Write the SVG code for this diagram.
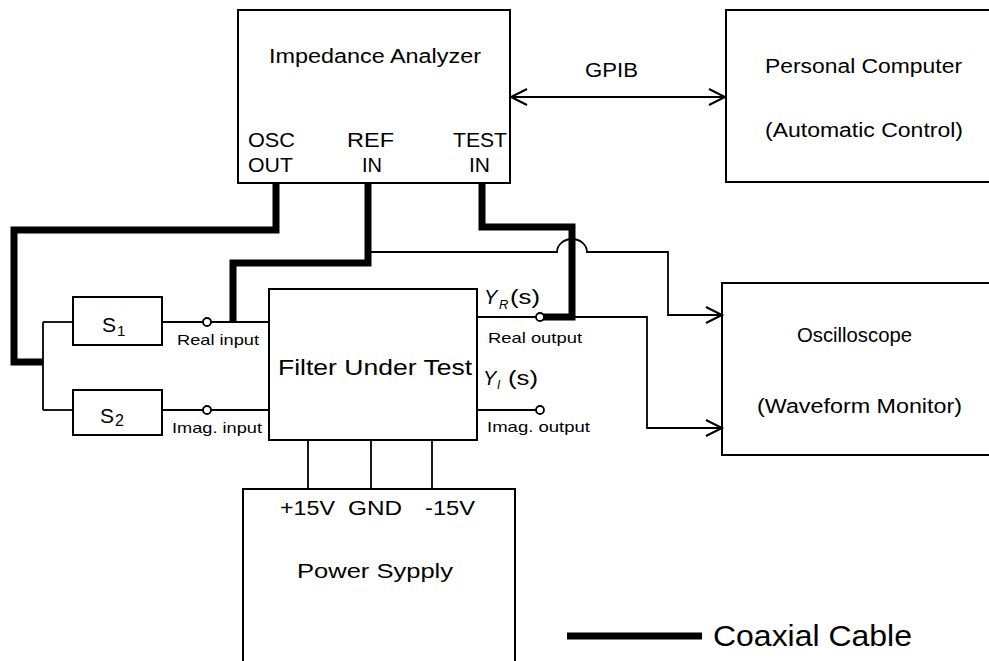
<svg xmlns="http://www.w3.org/2000/svg" width="989" height="661" viewBox="0 0 989 661">
<style>
  .box { fill: none; stroke: #000; stroke-width: 2; }
  .thin { fill: none; stroke: #000; stroke-width: 1.8; }
  .coax { fill: none; stroke: #000; stroke-width: 7; stroke-linejoin: miter; stroke-linecap: butt; }
  .port { fill: #fff; stroke: #000; stroke-width: 1.8; }
  text { font-family: "Liberation Sans", Arial, sans-serif; fill: #000; }
  .lbl { font-size: 20px; }
  .sm { font-size: 15px; }
</style>
<defs>
  <marker id="arr" markerUnits="userSpaceOnUse" markerWidth="22" markerHeight="22" refX="17" refY="9" orient="auto-start-reverse">
    <path d="M1,1 L17,9 L1,17" fill="none" stroke="#000" stroke-width="2"/>
  </marker>
</defs>
<rect width="989" height="661" fill="#fff"/>

<g id="connectors">
  <!-- coaxial cables -->
  <path class="coax" d="M276,183 V230 H14 V362 H43"/>
  <path class="coax" d="M368,183 V263 H233 V322"/>
  <path class="coax" d="M482,183 V227 H572 V317 H543"/>
  <!-- thin wires -->
  <path class="thin" d="M43,322 V410"/>
  <path class="thin" d="M43,322 H73"/>
  <path class="thin" d="M43,410 H73"/>
  <path class="thin" d="M162,322 H203 M211,322 H269"/>
  <path class="thin" d="M162,410 H203 M211,410 H269"/>
  <path class="thin" d="M477,317 H536"/>
  <path class="thin" d="M477,410 H536"/>
  <path class="thin" d="M368,252 H557 A15,13 0 0 1 587,252 H668 V315 H722" marker-end="url(#arr)"/>
  <path class="thin" d="M572,317 H647 V428 H722" marker-end="url(#arr)"/>
  <path class="thin" d="M511,97 H725" marker-start="url(#arr)" marker-end="url(#arr)"/>
  <path class="thin" d="M308,440 V489 M371,440 V489 M432,440 V489"/>
  <circle class="port" cx="207" cy="322" r="4"/>
  <circle class="port" cx="207" cy="410" r="4"/>
  <circle class="port" cx="540" cy="317" r="4"/>
  <circle class="port" cx="540" cy="410" r="4"/>
  <text class="lbl" x="585" y="77" textLength="53" lengthAdjust="spacingAndGlyphs">GPIB</text>
  <text class="sm" x="177" y="345" textLength="82" lengthAdjust="spacingAndGlyphs">Real input</text>
  <text class="sm" x="172" y="433" textLength="90" lengthAdjust="spacingAndGlyphs">Imag. input</text>
  <text class="sm" x="488" y="343" textLength="94" lengthAdjust="spacingAndGlyphs">Real output</text>
  <text class="sm" x="487" y="432" textLength="103" lengthAdjust="spacingAndGlyphs">Imag. output</text>
  <text x="484" y="304" style="font-size:20px;font-style:italic">Y</text>
  <text x="499" y="309" style="font-size:13px;font-style:italic">R</text>
  <text x="510" y="304" style="font-size:20px" textLength="30" lengthAdjust="spacingAndGlyphs">(s)</text>
  <text x="483" y="385" style="font-size:20px;font-style:italic">Y</text>
  <text x="497" y="389" style="font-size:12px;font-style:italic">I</text>
  <text x="508" y="385" style="font-size:20px" textLength="30" lengthAdjust="spacingAndGlyphs">(s)</text>
</g>

<g id="impedance-analyzer">
  <rect class="box" x="238" y="10" width="272" height="173"/>
  <text class="lbl" x="269" y="63" textLength="212" lengthAdjust="spacingAndGlyphs">Impedance Analyzer</text>
  <text class="lbl" x="248" y="147" textLength="47" lengthAdjust="spacingAndGlyphs">OSC</text>
  <text class="lbl" x="248" y="172" textLength="45" lengthAdjust="spacingAndGlyphs">OUT</text>
  <text class="lbl" x="347" y="147" textLength="47" lengthAdjust="spacingAndGlyphs">REF</text>
  <text class="lbl" x="362" y="172" textLength="20" lengthAdjust="spacingAndGlyphs">IN</text>
  <text class="lbl" x="453" y="147" textLength="54" lengthAdjust="spacingAndGlyphs">TEST</text>
  <text class="lbl" x="469" y="172" textLength="21" lengthAdjust="spacingAndGlyphs">IN</text>
</g>

<g id="personal-computer">
  <rect class="box" x="726" y="10" width="270" height="172"/>
  <text class="lbl" x="765" y="73" textLength="197" lengthAdjust="spacingAndGlyphs">Personal Computer</text>
  <text class="lbl" x="765" y="137" textLength="198" lengthAdjust="spacingAndGlyphs">(Automatic Control)</text>
</g>

<g id="s1">
  <rect class="box" x="73" y="297" width="89" height="48"/>
  <text x="102" y="332" style="font-size:21px">S</text>
  <text x="117" y="336" style="font-size:15px">1</text>
</g>

<g id="s2">
  <rect class="box" x="73" y="390" width="89" height="45"/>
  <text x="100" y="423" style="font-size:21px">S</text>
  <text x="115" y="426" style="font-size:16px">2</text>
</g>

<g id="filter">
  <rect class="box" x="269" y="289" width="208" height="151"/>
  <text x="278" y="375" style="font-size:22px" textLength="194" lengthAdjust="spacingAndGlyphs">Filter Under Test</text>
</g>

<g id="oscilloscope">
  <rect class="box" x="722" y="283" width="270" height="172"/>
  <text class="lbl" x="797" y="342" textLength="115" lengthAdjust="spacingAndGlyphs">Oscilloscope</text>
  <text class="lbl" x="757" y="413" textLength="205" lengthAdjust="spacingAndGlyphs">(Waveform Monitor)</text>
</g>

<g id="power-supply">
  <rect class="box" x="243" y="489" width="272" height="185"/>
  <text class="lbl" x="280" y="515" textLength="55" lengthAdjust="spacingAndGlyphs">+15V</text>
  <text class="lbl" x="348" y="515" textLength="54" lengthAdjust="spacingAndGlyphs">GND</text>
  <text class="lbl" x="425" y="515" textLength="50" lengthAdjust="spacingAndGlyphs">-15V</text>
  <text x="297" y="578" style="font-size:21px" textLength="156" lengthAdjust="spacingAndGlyphs">Power Sypply</text>
</g>

<g id="legend">
  <line class="coax" x1="567" y1="636" x2="702" y2="636"/>
  <text x="713" y="646" style="font-size:29px" textLength="199" lengthAdjust="spacingAndGlyphs">Coaxial Cable</text>
</g>
</svg>
